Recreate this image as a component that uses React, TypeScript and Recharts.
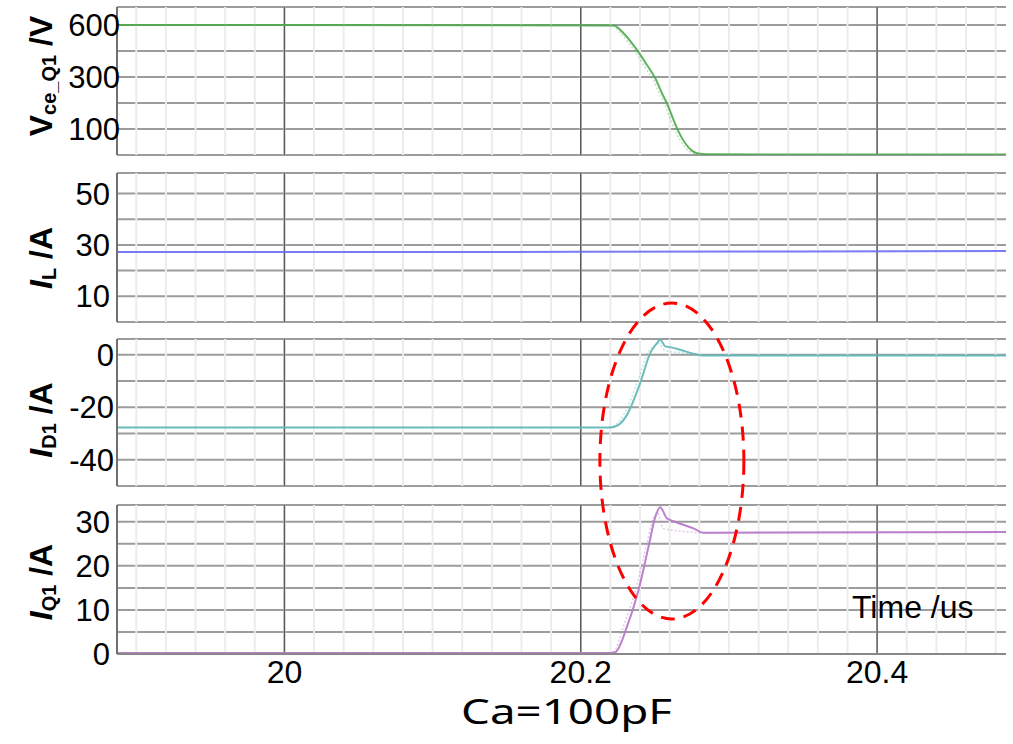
import React from 'react';
import { LineChart, Line, XAxis, YAxis, CartesianGrid, ReferenceLine } from 'recharts';

// shared time axis (us)
const timeDomain = [19.887, 20.487];
const minorTimeTicks = [
  19.9, 19.92, 19.94, 19.96, 19.98, 20.0, 20.02, 20.04, 20.06, 20.08, 20.1, 20.12, 20.14, 20.16, 20.18,
  20.2, 20.22, 20.24, 20.26, 20.28, 20.3, 20.32, 20.34, 20.36, 20.38, 20.4, 20.42, 20.44, 20.46, 20.48,
];
const majorTimeTicks = [20, 20.2, 20.4];
const timeTickLabels = ['20', '20.2', '20.4'];

// Vce_Q1 (V)
const vceTime = [19.887, 20.2221, 20.2289, 20.2379, 20.2447, 20.2503, 20.2548, 20.2581, 20.2626, 20.266, 20.2705, 20.275, 20.2784, 20.2851, 20.487];
const vceMain = [600, 598, 562, 485, 415, 354, 285, 239, 162, 108, 54, 20, 8, 3, 2];
const vceAltTime = [19.887, 20.2205, 20.2275, 20.2365, 20.2433, 20.249, 20.2535, 20.2568, 20.2613, 20.2647, 20.2692, 20.2737, 20.2772, 20.2851, 20.487];
const vceAlt = [600, 598, 558, 478, 406, 345, 276, 230, 152, 98, 46, 15, 6, 2, 1];
const vceTicks = [0, 120, 240, 360, 480, 600];
const vceTickLabels = ['', '100', '', '300', '', '600'];

// I_L (A)
const ilTime = [19.887, 20.2, 20.35, 20.487];
const ilMain = [27.2, 27.3, 27.45, 27.6];
const ilTicks = [0, 10, 20, 30, 40, 50];
const ilTickLabels = ['', '10', '', '30', '', '50'];

// I_D1 (A)
const id1Time = [19.887, 20.2199, 20.2255, 20.2312, 20.2401, 20.2469, 20.2514, 20.2536, 20.257, 20.2604, 20.2671, 20.2761, 20.2828, 20.487];
const id1Main = [-27.7, -27.7, -26.7, -22.9, -10.8, 0.6, 4.4, 5.7, 3.2, 2.9, 1.9, 0.4, -0.3, -0.3];
const id1AltTime = [19.887, 20.2185, 20.224, 20.2298, 20.2388, 20.2455, 20.25, 20.2525, 20.256, 20.26, 20.268, 20.277, 20.283, 20.487];
const id1Alt = [-27.7, -27.7, -26.5, -22, -9.5, 1, 3.6, 4.2, 2, 1.2, 0.8, 0, -0.3, -0.3];
const id1Ticks = [-50, -40, -30, -20, -10, 0];
const id1TickLabels = ['', '-40', '', '-20', '', '0'];

// I_Q1 (A)
const iq1Time = [19.887, 20.2199, 20.2233, 20.2312, 20.239, 20.2457, 20.2503, 20.2536, 20.2581, 20.2637, 20.2761, 20.2828, 20.487];
const iq1Main = [0.2, 0.2, 0.4, 6.2, 14.5, 24.3, 31.1, 33.3, 30.8, 30.0, 28.5, 27.5, 27.7];
const iq1AltTime = [19.887, 20.2185, 20.222, 20.2295, 20.2378, 20.2445, 20.2492, 20.252, 20.2555, 20.258, 20.264, 20.276, 20.283, 20.487];
const iq1Alt = [0.2, 0.2, 0.5, 7, 15.5, 25, 31, 32, 28.5, 28.3, 28, 27.6, 27.4, 27.6];
const iq1Ticks = [0, 5, 10, 15, 20, 25, 30];
const iq1TickLabels = ['0', '', '10', '', '20', '', '30'];

const W = 1013;
const PLOT_LEFT = 117;
const PLOT_RIGHT = 1006;
const tickFont = { fill: '#000', fontSize: 31, fontFamily: 'Liberation Sans, Arial, sans-serif' };

const toPoints = (ts: number[], vs: number[]) => ts.map((t, i) => ({ t, v: vs[i] }));

interface Trace {
  data: { t: number; v: number }[];
  color: string;
  width: number;
  opacity: number;
  dash?: string;
}

interface PanelProps {
  top: number;
  height: number;
  marginTop: number;
  marginBottom: number;
  yDomain: number[];
  yTicks: number[];
  yLabels: string[];
  tickMargin: number;
  traces: Trace[];
  showTime?: boolean;
}

const Panel: React.FC<PanelProps> = ({
  top, height, marginTop, marginBottom, yDomain, yTicks, yLabels, tickMargin, traces, showTime,
}) => (
  <div style={{ position: 'absolute', left: 0, top }}>
    <LineChart
      width={W}
      height={height}
      margin={{ top: marginTop, right: W - PLOT_RIGHT, bottom: marginBottom, left: PLOT_LEFT - 1 }}
    >
      <XAxis
        type="number"
        dataKey="t"
        domain={timeDomain}
        allowDataOverflow
        ticks={majorTimeTicks}
        interval={0}
        hide={!showTime}
        height={30}
        axisLine={{ stroke: '#888', strokeWidth: 2 }}
        tickLine={false}
        tickSize={0}
        tickMargin={6}
        tick={{ ...tickFont, fontSize: 32 }}
        tickFormatter={(v: number) => timeTickLabels[majorTimeTicks.indexOf(v)] ?? ''}
      />
      <YAxis
        type="number"
        domain={yDomain}
        allowDataOverflow
        ticks={yTicks}
        interval={0}
        width={1}
        axisLine={{ stroke: '#707070', strokeWidth: 2 }}
        tickLine={false}
        tickSize={0}
        tickMargin={tickMargin}
        tick={tickFont}
        tickFormatter={(v: number) => yLabels[yTicks.indexOf(v)] ?? ''}
      />
      {minorTimeTicks.map((t) => (
        <ReferenceLine key={'m' + t} x={t} stroke="#ececec" strokeWidth={2} />
      ))}
      <CartesianGrid vertical={false} stroke="#9c9c9c" strokeWidth={2} />
      {majorTimeTicks.map((t) => (
        <ReferenceLine key={'M' + t} x={t} stroke="#5a5a5a" strokeWidth={1.5} />
      ))}
      {traces.map((s, i) => (
        <Line
          key={i}
          data={s.data}
          dataKey="v"
          type="monotone"
          stroke={s.color}
          strokeWidth={s.width}
          strokeOpacity={s.opacity}
          strokeDasharray={s.dash}
          dot={false}
          activeDot={false}
          isAnimationActive={false}
        />
      ))}
    </LineChart>
  </div>
);

const labelStyle = { fontFamily: 'Liberation Sans, Arial, sans-serif', fontWeight: 700, fill: '#000' } as const;

const AxisTitle: React.FC<{ x: number; y: number; main: string; sub: string; unit: string; italic?: boolean }> = ({
  x, y, main, sub, unit, italic,
}) => (
  <text transform={`translate(${x},${y}) rotate(-90)`} textAnchor="middle" style={labelStyle} fontSize={32}>
    <tspan fontStyle={italic ? 'italic' : 'normal'}>{main}</tspan>
    <tspan fontSize={20} dy={4}>{sub}</tspan>
    <tspan dy={-4}>{' /' + unit}</tspan>
  </text>
);

// annotation ellipse, centre given in time units
const ellipseT = 20.2615;
const timeToPx = (t: number) => PLOT_LEFT + ((t - timeDomain[0]) / (timeDomain[1] - timeDomain[0])) * (PLOT_RIGHT - PLOT_LEFT);

export default function App() {
  return (
    <div style={{ position: 'absolute', left: 0, top: 0, width: W, height: 744, background: '#fff', overflow: 'hidden' }}>
      <Panel
        top={0} height={160} marginTop={7} marginBottom={5}
        yDomain={[0, 683]} yTicks={vceTicks} yLabels={vceTickLabels} tickMargin={-3}
        traces={[
          { data: toPoints(vceAltTime, vceAlt), color: '#4fa94f', width: 1.5, opacity: 0.35, dash: '2 2' },
          { data: toPoints(vceTime, vceMain), color: '#4fa94f', width: 2, opacity: 0.9 },
        ]}
      />
      <Panel
        top={165} height={162} marginTop={8} marginBottom={5}
        yDomain={[0, 58]} yTicks={ilTicks} yLabels={ilTickLabels} tickMargin={7}
        traces={[{ data: toPoints(ilTime, ilMain), color: '#6b6bf5', width: 2, opacity: 0.9 }]}
      />
      <Panel
        top={331} height={160} marginTop={8} marginBottom={5}
        yDomain={[-50, 6]} yTicks={id1Ticks} yLabels={id1TickLabels} tickMargin={3}
        traces={[
          { data: toPoints(id1AltTime, id1Alt), color: '#66b8b8', width: 1.5, opacity: 0.4, dash: '2 2' },
          { data: toPoints(id1Time, id1Main), color: '#66b8b8', width: 2, opacity: 0.95 },
        ]}
      />
      <Panel
        top={497} height={247} marginTop={8} marginBottom={60}
        yDomain={[0, 33.8]} yTicks={iq1Ticks} yLabels={iq1TickLabels} tickMargin={7}
        showTime
        traces={[
          { data: toPoints(iq1AltTime, iq1Alt), color: '#b77ac8', width: 1.5, opacity: 0.4, dash: '2 2' },
          { data: toPoints(iq1Time, iq1Main), color: '#b77ac8', width: 2, opacity: 0.95 },
        ]}
      />
      <svg width={W} height={744} style={{ position: 'absolute', left: 0, top: 0, pointerEvents: 'none' }}>
        <AxisTitle x={52} y={76} main="V" sub="ce_Q1" unit="V" />
        <AxisTitle x={52} y={258} main="I" sub="L" unit="A" italic />
        <AxisTitle x={52} y={420} main="I" sub="D1" unit="A" italic />
        <AxisTitle x={52} y={582} main="I" sub="Q1" unit="A" italic />
        <text x={852} y={618} fontSize={32} fontFamily="Liberation Sans, Arial, sans-serif" fill="#000">
          Time /us
        </text>
        <text
          x={461}
          y={724}
          fontSize={34}
          fontFamily="Noto Sans, sans-serif"
          textLength={211}
          lengthAdjust="spacingAndGlyphs"
          fill="#000"
        >
          Ca=100pF
        </text>
        <ellipse
          cx={timeToPx(ellipseT)}
          cy={461}
          rx={72}
          ry={158}
          fill="none"
          stroke="#ff0000"
          strokeWidth={3}
          strokeDasharray="14 9"
        />
      </svg>
    </div>
  );
}
